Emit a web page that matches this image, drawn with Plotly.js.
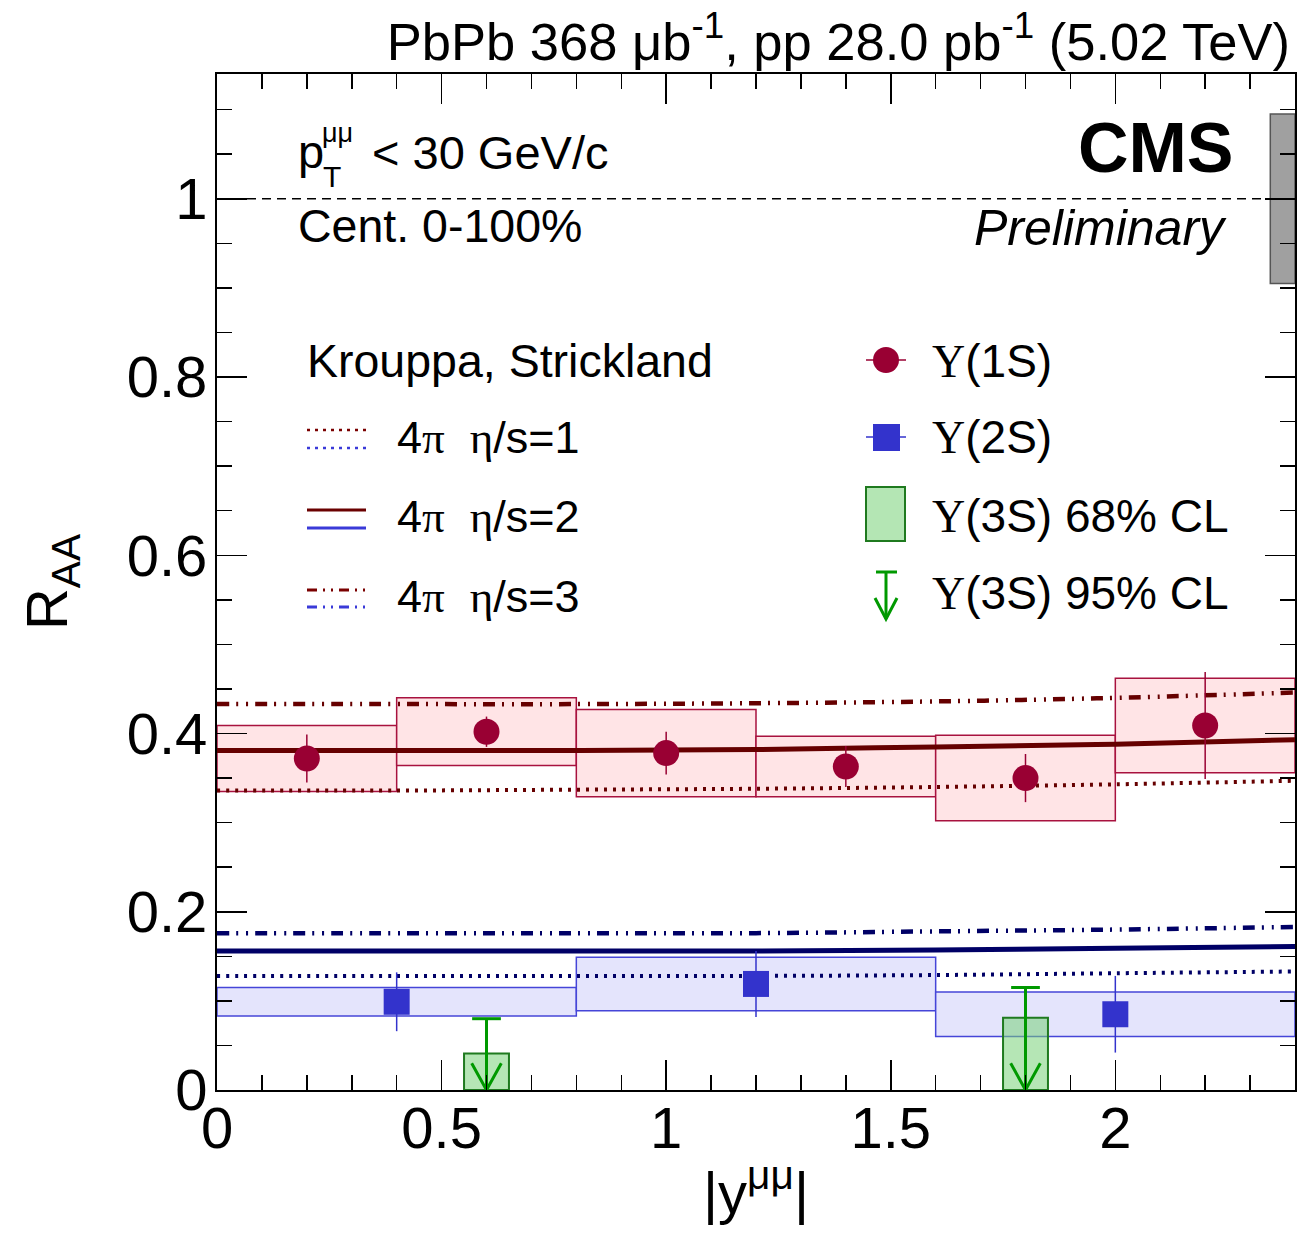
<!DOCTYPE html>
<html><head><meta charset="utf-8">
<script src="https://cdn.plot.ly/plotly-3.0.1.min.js"></script>
<style>body{margin:0;background:#fff}#chart{width:1298px;height:1235px}</style>
</head><body><div id="chart"></div>
<script>
// ---------------- data ----------------
const y1sX    = [0.2, 0.6, 1.0, 1.4, 1.8, 2.2];
const y1sBinW = [0.4, 0.4, 0.4, 0.4, 0.4, 0.4];
const y1sVal  = [0.372, 0.402, 0.378, 0.363, 0.350, 0.409];
const y1sStat = [0.027, 0.017, 0.024, 0.023, 0.027, 0.060];
const y1sSyst = [0.037, 0.038, 0.049, 0.034, 0.048, 0.053];

const y2sX    = [0.4, 1.2, 2.0];
const y2sBinW = [0.8, 0.8, 0.8];
const y2sVal  = [0.099, 0.119, 0.085];
const y2sStat = [0.033, 0.037, 0.043];
const y2sSyst = [0.016, 0.030, 0.025];

const y3sX    = [0.6, 1.8];
const y3sCL68 = [0.041, 0.081];
const y3sCL95 = [0.080, 0.115];

const globalCenter = 1.0;
const globalUnc    = 0.095;

const thX         = [0, 0.4, 0.8, 1.2, 1.6, 2.0, 2.4];
const th1S_eta1   = [0.336, 0.336, 0.337, 0.338, 0.340, 0.343, 0.347];
const th1S_eta2   = [0.381, 0.381, 0.381, 0.382, 0.385, 0.388, 0.393];
const th1S_eta3   = [0.433, 0.433, 0.433, 0.434, 0.436, 0.440, 0.446];
const th2S_eta1   = [0.128, 0.128, 0.128, 0.128, 0.129, 0.131, 0.133];
const th2S_eta2   = [0.156, 0.156, 0.156, 0.156, 0.157, 0.159, 0.161];
const th2S_eta3   = [0.176, 0.176, 0.176, 0.176, 0.178, 0.180, 0.183];

const xTickVals = [0, 0.5, 1, 1.5, 2];
const yTickVals = [0, 0.2, 0.4, 0.6, 0.8, 1];

// ---------------- styles ----------------
const FONT = 'Liberation Sans, Arial, Helvetica, sans-serif';
const SERIF = 'Liberation Serif';
const C1S = '#990033', C1Sbox = 'rgb(255,228,230)', C1Sedge = '#a8123f';
const C2S = '#3333cc', C2Sbox = 'rgb(228,228,252)', C2Sedge = '#4545d8';
const RED = '#660000', NAVY = '#000066';
const GREEN = '#009900';
const DASHDOT = '12px,7px,2px,8px,2px,7px';
const DOT = '3px,6px';

// pixel -> paper helpers (for legend/labels decoration only)
const L = 217, R = 1295, T = 74, B = 1090;
const px = v => (v - L) / (R - L);
const py = v => (B - v) / (B - T);

const traces = [];
// systematic boxes 1S
traces.push({type:'bar', x:y1sX, width:y1sBinW,
  base:y1sVal.map((v,i)=>v-y1sSyst[i]), y:y1sSyst.map(s=>2*s),
  marker:{color:C1Sbox, line:{color:C1Sedge, width:1.5}}, hoverinfo:'skip', showlegend:false});
// systematic boxes 2S
traces.push({type:'bar', x:y2sX, width:y2sBinW,
  base:y2sVal.map((v,i)=>v-y2sSyst[i]), y:y2sSyst.map(s=>2*s),
  marker:{color:C2Sbox, line:{color:C2Sedge, width:1.5}}, hoverinfo:'skip', showlegend:false});
// 3S 68% CL boxes
traces.push({type:'bar', x:y3sX, width:y3sX.map(()=>0.1),
  base:y3sX.map(()=>0), y:y3sCL68,
  marker:{color:'rgba(120,210,120,0.55)', line:{color:'#1f7a1f', width:2}}, hoverinfo:'skip', showlegend:false});
// global uncertainty box
traces.push({type:'bar', x:[2.3725], width:[0.055], base:[globalCenter-globalUnc], y:[2*globalUnc],
  marker:{color:'rgb(160,160,160)', line:{color:'#555555', width:1.5}}, hoverinfo:'skip', showlegend:false});

// reference line at 1
traces.push({type:'scatter', mode:'lines', x:[0,2.4], y:[globalCenter,globalCenter],
  line:{color:'black', width:1.3, dash:'9px,6px'}, hoverinfo:'skip', showlegend:false});

// theory curves
const th = [[th1S_eta1,RED,DOT,4],[th1S_eta2,RED,'solid',5],[th1S_eta3,RED,DASHDOT,4.5],
            [th2S_eta1,NAVY,DOT,4],[th2S_eta2,NAVY,'solid',5],[th2S_eta3,NAVY,DASHDOT,4.5]];
th.forEach(([ys,c,d,w])=>traces.push({type:'scatter', mode:'lines', x:thX, y:ys,
  line:{color:c, width:w, dash:d, shape:'spline'}, hoverinfo:'skip', showlegend:false}));

// 3S 95% CL arrows
const ax = [], ay = [];
y3sX.forEach((x,i)=>{
  const u = y3sCL95[i];
  ax.push(x-0.032, x+0.032, null, x, x, null, x-0.033, x, x+0.033, null);
  ay.push(u, u, null, u, 0, null, 0.030, 0, 0.030, null);
});
traces.push({type:'scatter', mode:'lines', x:ax, y:ay, line:{color:GREEN, width:3},
  hoverinfo:'skip', showlegend:false, cliponaxis:false});

// data points
traces.push({type:'scatter', mode:'markers', x:y1sX, y:y1sVal,
  error_y:{type:'data', array:y1sStat, color:C1S, thickness:1.5, width:0},
  marker:{symbol:'circle', size:26, color:C1S}, showlegend:false});
traces.push({type:'scatter', mode:'markers', x:y2sX, y:y2sVal,
  error_y:{type:'data', array:y2sStat, color:C2S, thickness:1.5, width:0},
  marker:{symbol:'square', size:26, color:C2S}, showlegend:false});

// ---------------- legend decorations ----------------
const shapes = [];
const hline = (x0,x1,y,color,width,dash)=>shapes.push({type:'line', xref:'paper', yref:'paper',
  x0:px(x0), x1:px(x1), y0:py(y), y1:py(y), line:{color, width, dash}});
hline(307,366,430,'#7a0000',2.5,'3px,5px');
hline(307,366,448,'#3a3ad8',2.5,'3px,5px');
hline(307,366,510,'#6a0000',3,'solid');
hline(307,366,528,'#3a3ad8',3,'solid');
hline(307,366,590,'#7a0000',3,'10px,6px,2px,6px,2px,6px');
hline(307,366,607,'#3a3ad8',3,'10px,6px,2px,6px,2px,6px');
// 1S marker
hline(866,906,360,C1S,1.5,'solid');
shapes.push({type:'circle', xref:'paper', yref:'paper', x0:px(873), x1:px(899), y0:py(373), y1:py(347),
  fillcolor:C1S, line:{width:0}});
// 2S marker
hline(866,906,437,C2S,1.5,'solid');
shapes.push({type:'rect', xref:'paper', yref:'paper', x0:px(873), x1:px(900), y0:py(451), y1:py(424),
  fillcolor:C2S, line:{width:0}});
// 3S 68% box
shapes.push({type:'rect', xref:'paper', yref:'paper', x0:px(866), x1:px(905), y0:py(541), y1:py(487),
  fillcolor:'rgb(180,230,180)', line:{color:'#1f7a1f', width:2}});
// 3S 95% arrow
hline(876,897,572,GREEN,3,'solid');
shapes.push({type:'line', xref:'paper', yref:'paper', x0:px(886), x1:px(886), y0:py(572), y1:py(619), line:{color:GREEN,width:3}});
shapes.push({type:'path', xref:'paper', yref:'paper',
  path:`M ${px(875)} ${py(598)} L ${px(886)} ${py(619)} L ${px(897)} ${py(598)}`, line:{color:GREEN,width:3}});

const sp = t => `<span style="font-family:${SERIF}">${t}</span>`;
const ann = (x,y,text,size,xanchor='left',extra={})=>Object.assign({xref:'paper', yref:'paper',
  x:px(x), y:py(y), text, showarrow:false, xanchor, yanchor:'middle',
  font:{family:FONT, size, color:'black'}}, extra);
const annotations = [
  ann(1236,148,'<b>CMS</b>',70,'right'),
  ann(1229,228,'<i>Preliminary</i>',50,'right'),
  ann(296,152,'p',47),
  ann(321,176,'T',30),
  ann(320,133,'μμ',27),
  ann(370,153,'< 30 GeV/c',47),
  ann(296,226,'Cent. 0-100%',46.5),
  ann(305,361,'Krouppa, Strickland',46.5),
  ann(395,437,'4'+sp('π')+'\u00a0\u00a0'+sp('η')+'/s=1',45),
  ann(395,516,'4'+sp('π')+'\u00a0\u00a0'+sp('η')+'/s=2',45),
  ann(395,596,'4'+sp('π')+'\u00a0\u00a0'+sp('η')+'/s=3',45),
  ann(930,361,sp('Υ')+'(1S)',46),
  ann(930,437,sp('Υ')+'(2S)',46),
  ann(930,516,sp('Υ')+'(3S) 68% CL',46),
  ann(930,593,sp('Υ')+'(3S) 95% CL',46),
];

const axisCommon = {showline:true, linewidth:2, linecolor:'black', mirror:'allticks',
  ticks:'inside', ticklen:30, tickwidth:1.5, tickcolor:'black', showgrid:false, zeroline:false,
  tickfont:{family:FONT, size:58, color:'black'}};

const layout = {
  width:1298, height:1235, paper_bgcolor:'white', plot_bgcolor:'white',
  margin:{l:L, r:1298-R, t:T, b:1235-B},
  barmode:'overlay', bargap:0, showlegend:false,
  font:{family:FONT, color:'black'},
  title:{text:'PbPb 368 μb<sup>-1</sup>, pp 28.0 pb<sup>-1</sup> (5.02 TeV)', xref:'container', yref:'container',
    x:1290/1298, xanchor:'right', y:1-42/1235, yanchor:'middle', font:{family:FONT, size:52.5, color:'black'}},
  xaxis:Object.assign({}, axisCommon, {range:[0,2.4], tickvals:xTickVals, ticklabelstandoff:-14,
    minor:{ticks:'inside', dtick:0.1, ticklen:15, tickwidth:1.5, tickcolor:'black'},
    title:{text:'|y<sup>μμ</sup>|', font:{family:FONT, size:58, color:'black'}, standoff:14}}),
  yaxis:Object.assign({}, axisCommon, {range:[0,1.14], tickvals:yTickVals, ticklabelstandoff:-4,
    minor:{ticks:'inside', dtick:0.05, ticklen:15, tickwidth:1.5, tickcolor:'black'},
    title:{text:'R<sub>AA</sub>', font:{family:FONT, size:58, color:'black'}, standoff:40}}),
  shapes, annotations
};

Plotly.newPlot('chart', traces, layout, {displayModeBar:false, staticPlot:true});
</script></body></html>
